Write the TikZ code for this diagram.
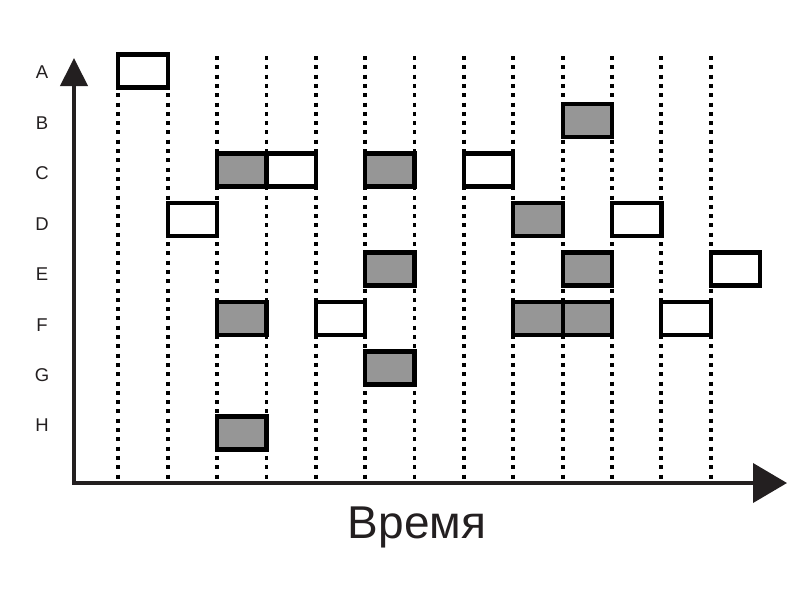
\documentclass[tikz,border=0pt]{standalone}
\usepackage{fontspec}
\setmainfont{Liberation Sans}
\usetikzlibrary{positioning, arrows, arrows.meta}
\definecolor{axiscol}{RGB}{35,31,32}
\definecolor{busy}{RGB}{150,150,150}

\begin{document}
\begin{tikzpicture}[x=1pt, y=-1pt,
		slot/.style={draw=black, line width=4.2pt, minimum width=49.4pt, minimum height=33pt, inner sep=0pt},
		gridline/.style={line width=3.8pt, dash pattern=on 4pt off 5.3pt, black},
		letter/.style={font=\fontsize{18.5}{20}\selectfont, text=axiscol},
		axis/.style={line width=4pt, draw=axiscol}]
			\useasboundingbox (0,0) rectangle (800,600);
			
			% Time lines
			\foreach \k in {0,...,12} {
				\coordinate (t\k) at (118.3+49.37*\k, 56);
				\coordinate (b\k) at (118.3+49.37*\k, 482);
				\draw[gridline] (t\k) -- (b\k);
			}
			
			% Nodes
			\foreach \row/\y/\k/\fillc in {A/71/0/white, B/120.5/9/busy,
					C/170/2/busy, C/170/3/white, C/170/5/busy, C/170/7/white,
					D/219.5/1/white, D/219.5/8/busy, D/219.5/10/white,
					E/269/5/busy, E/269/9/busy, E/269/12/white,
					F/318.5/2/busy, F/318.5/4/white, F/318.5/8/busy, F/318.5/9/busy, F/318.5/11/white,
					G/368/5/busy, H/433/2/busy}
				\node (\row\k) [slot, fill=\fillc] at (118.3+49.37*\k+24.7, \y) {};
			
			\foreach \row/\y in {A/72, B/123, C/173, D/224, E/274, F/325, G/375, H/425}
				\node (lab\row) [letter] at (42, \y) {\row};
			
			\node (time) [anchor=base, font=\fontsize{46}{50}\selectfont, text=axiscol] at (417, 538) {Время};
			
			% Arrows
			\coordinate (origin) at (74, 483);
			\coordinate (ytip) at (74, 58);
			\coordinate (xtip) at (787, 483);
			\draw[axis, {Triangle[length=28pt, width=27pt]}-{Triangle[length=34pt, width=39pt]}] (ytip) -- (origin) -- (xtip);
		\end{tikzpicture}
\end{document}
